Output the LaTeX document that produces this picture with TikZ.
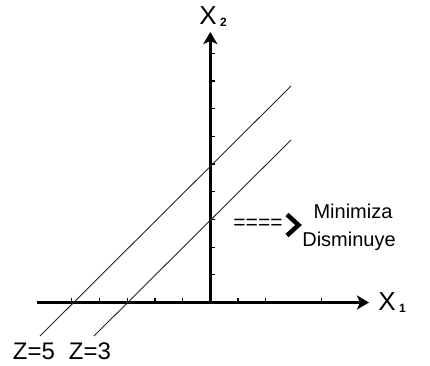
\documentclass[tikz,border=0pt]{standalone}
\usepackage{fontspec}
\setmainfont{Liberation Sans}
\usetikzlibrary{arrows.meta}
\begin{document}
\begin{tikzpicture}[x=1pt,y=-1pt,
  axis/.style={line width=3pt,-{Stealth[width=14pt,length=12pt,inset=3pt]}},
  tickmark/.style={line width=1.2pt},
  level/.style={line width=0.9pt,black!85},
  lbl/.style={inner sep=0pt,font=\fontsize{24}{24}\selectfont},
  axlbl/.style={inner sep=0pt,font=\fontsize{26}{26}\selectfont},
  sub/.style={inner sep=0pt,font=\fontsize{12}{12}\selectfont\bfseries,anchor=west},
  txt/.style={inner sep=0pt,font=\fontsize{20}{20}\selectfont},
  chev/.style={line width=4.5pt,miter limit=10}
]
\useasboundingbox (0,0) rectangle (430,365);
% axes
\coordinate (O) at (210.3,302.5);
\coordinate (xs) at (37,302.5);
\coordinate (xe) at (369,302.5);
\coordinate (ye) at (210.3,32);
\draw[axis] (xs) -- (xe);
\draw[axis] (O) -- (ye);
% ticks
\foreach \k in {1,...,9} \draw[tickmark] (210.3+1.2,302.5-27.7*\k) -- ++(3,0);
\foreach \k in {-5,-4,-3,-2,-1,1,2,4} \draw[tickmark] (210.3+27.7*\k,302.5-1.2) -- ++(0,-3);
% axis labels
\node[axlbl] (x2) at (208,16) {X};
\node[sub] (x2s) at (220,22) {2};
\node[axlbl] (x1) at (387,302) {X};
\node[sub] (x1s) at (399,308) {1};
% level lines
\coordinate (a5) at (40,336);
\coordinate (b5) at (291,86);
\coordinate (a3) at (94,336);
\coordinate (b3) at (291,140);
\draw[level] (a5) -- (b5);
\draw[level] (a3) -- (b3);
\node[lbl] (z5) at (34,351) {Z=5};
\node[lbl] (z3) at (90,351) {Z=3};
% direction arrow
\node[txt,font=\fontsize{21}{21}\selectfont] (eq) at (258,224) {====};
\coordinate (c1) at (287,214.5);
\coordinate (c2) at (298.5,225);
\coordinate (c3) at (287,235.5);
\draw[chev] (c1) -- (c2) -- (c3);
\node[txt] (min) at (353,211) {Minimiza};
\node[txt] (dis) at (349,241) {Disminuye};
\end{tikzpicture}
\end{document}
